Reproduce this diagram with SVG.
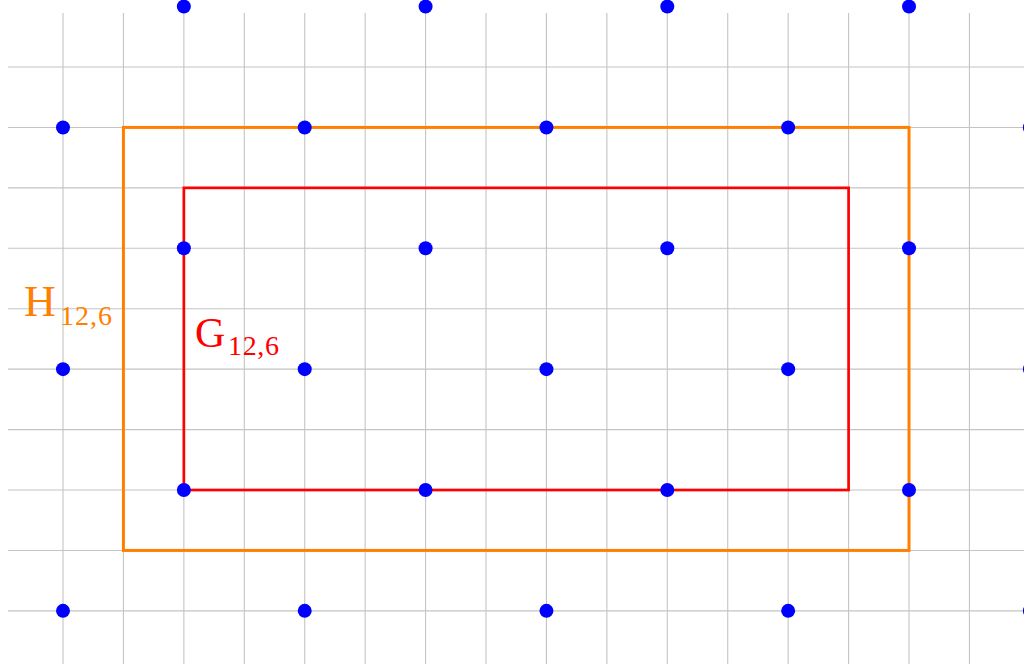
<svg xmlns="http://www.w3.org/2000/svg" width="1024" height="664" viewBox="0 0 1024 664">
<style>
.g line{stroke:#c4c4c4;stroke-width:1.1}
.d circle{fill:#0000ff}
.lab{font-family:"Liberation Serif","DejaVu Serif",serif}
</style>
<rect width="1024" height="664" fill="#ffffff"/>
<g class="g" id="grid">
<line x1="63" y1="13" x2="63" y2="664"/>
<line x1="123.43" y1="13" x2="123.43" y2="664"/>
<line x1="183.86" y1="13" x2="183.86" y2="664"/>
<line x1="244.29" y1="13" x2="244.29" y2="664"/>
<line x1="304.72" y1="13" x2="304.72" y2="664"/>
<line x1="365.15" y1="13" x2="365.15" y2="664"/>
<line x1="425.58" y1="13" x2="425.58" y2="664"/>
<line x1="486.01" y1="13" x2="486.01" y2="664"/>
<line x1="546.44" y1="13" x2="546.44" y2="664"/>
<line x1="606.87" y1="13" x2="606.87" y2="664"/>
<line x1="667.3" y1="13" x2="667.3" y2="664"/>
<line x1="727.73" y1="13" x2="727.73" y2="664"/>
<line x1="788.16" y1="13" x2="788.16" y2="664"/>
<line x1="848.59" y1="13" x2="848.59" y2="664"/>
<line x1="909.02" y1="13" x2="909.02" y2="664"/>
<line x1="969.45" y1="13" x2="969.45" y2="664"/>
<line x1="8" y1="67" x2="1024" y2="67"/>
<line x1="8" y1="127.43" x2="1024" y2="127.43"/>
<line x1="8" y1="187.86" x2="1024" y2="187.86"/>
<line x1="8" y1="248.29" x2="1024" y2="248.29"/>
<line x1="8" y1="308.72" x2="1024" y2="308.72"/>
<line x1="8" y1="369.15" x2="1024" y2="369.15"/>
<line x1="8" y1="429.58" x2="1024" y2="429.58"/>
<line x1="8" y1="490.01" x2="1024" y2="490.01"/>
<line x1="8" y1="550.44" x2="1024" y2="550.44"/>
<line x1="8" y1="610.87" x2="1024" y2="610.87"/>
</g>
<g id="H">
<rect x="123.43" y="127.43" width="785.59" height="423.01" fill="none" stroke="#ff8000" stroke-width="3"/>
<text class="lab" fill="#ff8000"><tspan x="24" y="316" font-size="44">H</tspan><tspan x="60" y="325" font-size="28" textLength="52">12,6</tspan></text>
</g>
<g id="G">
<rect x="183.86" y="187.86" width="664.73" height="302.15" fill="none" stroke="#ff0000" stroke-width="2.7"/>
<text class="lab" fill="#ff0000"><tspan x="195" y="347" font-size="42">G</tspan><tspan x="228" y="355" font-size="28" textLength="51">12,6</tspan></text>
</g>
<g class="d" id="dots">
<circle cx="183.86" cy="6.57" r="7"/><circle cx="425.58" cy="6.57" r="7"/><circle cx="667.3" cy="6.57" r="7"/><circle cx="909.02" cy="6.57" r="7"/>
<circle cx="63" cy="127.43" r="7"/><circle cx="304.72" cy="127.43" r="7"/><circle cx="546.44" cy="127.43" r="7"/><circle cx="788.16" cy="127.43" r="7"/><circle cx="1029.88" cy="127.43" r="7"/>
<circle cx="183.86" cy="248.29" r="7"/><circle cx="425.58" cy="248.29" r="7"/><circle cx="667.3" cy="248.29" r="7"/><circle cx="909.02" cy="248.29" r="7"/>
<circle cx="63" cy="369.15" r="7"/><circle cx="304.72" cy="369.15" r="7"/><circle cx="546.44" cy="369.15" r="7"/><circle cx="788.16" cy="369.15" r="7"/><circle cx="1029.88" cy="369.15" r="7"/>
<circle cx="183.86" cy="490.01" r="7"/><circle cx="425.58" cy="490.01" r="7"/><circle cx="667.3" cy="490.01" r="7"/><circle cx="909.02" cy="490.01" r="7"/>
<circle cx="63" cy="610.87" r="7"/><circle cx="304.72" cy="610.87" r="7"/><circle cx="546.44" cy="610.87" r="7"/><circle cx="788.16" cy="610.87" r="7"/><circle cx="1029.88" cy="610.87" r="7"/>
</g>
</svg>
